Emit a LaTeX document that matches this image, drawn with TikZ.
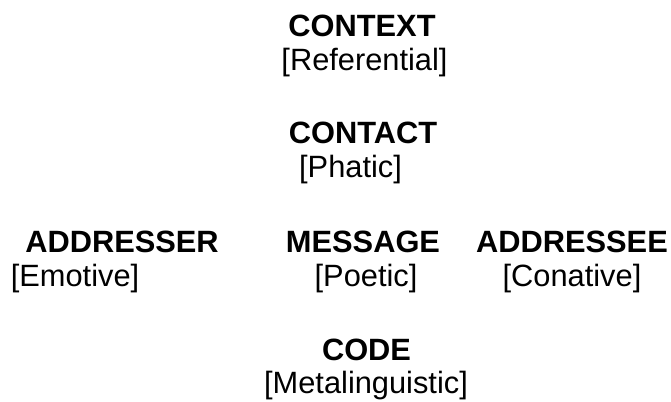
\documentclass[tikz,border=0pt]{standalone}
\usepackage{fontspec}
\setmainfont{Liberation Sans}
\begin{document}
\begin{tikzpicture}[x=1pt,y=-1pt,
  head/.style={anchor=base,inner sep=0pt,font=\fontsize{30.8}{34}\selectfont\bfseries},
  func/.style={anchor=base,inner sep=0pt,font=\fontsize{30.8}{34}\selectfont}]
\useasboundingbox[fill=white] (0,0) rectangle (671,401);
\node[head] (context) at (362,37) {CONTEXT};
\node[func] (referential) at (364.5,71) {[Referential]};
\node[head] (contact) at (363,143) {CONTACT};
\node[func] (phatic) at (350.5,177.5) {[Phatic]};
\node[head] (addresser) at (122,252) {ADDRESSER};
\node[func] (emotive) at (75,286.5) {[Emotive]};
\node[head] (message) at (363,252) {MESSAGE};
\node[func] (poetic) at (366,286.5) {[Poetic]};
\node[head] (addressee) at (572,252) {ADDRESSEE};
\node[func] (conative) at (572,286.5) {[Conative]};
\node[head] (code) at (366.5,360) {CODE};
\node[func] (metaling) at (366,393.5) {[Metalinguistic]};
\end{tikzpicture}
\end{document}
